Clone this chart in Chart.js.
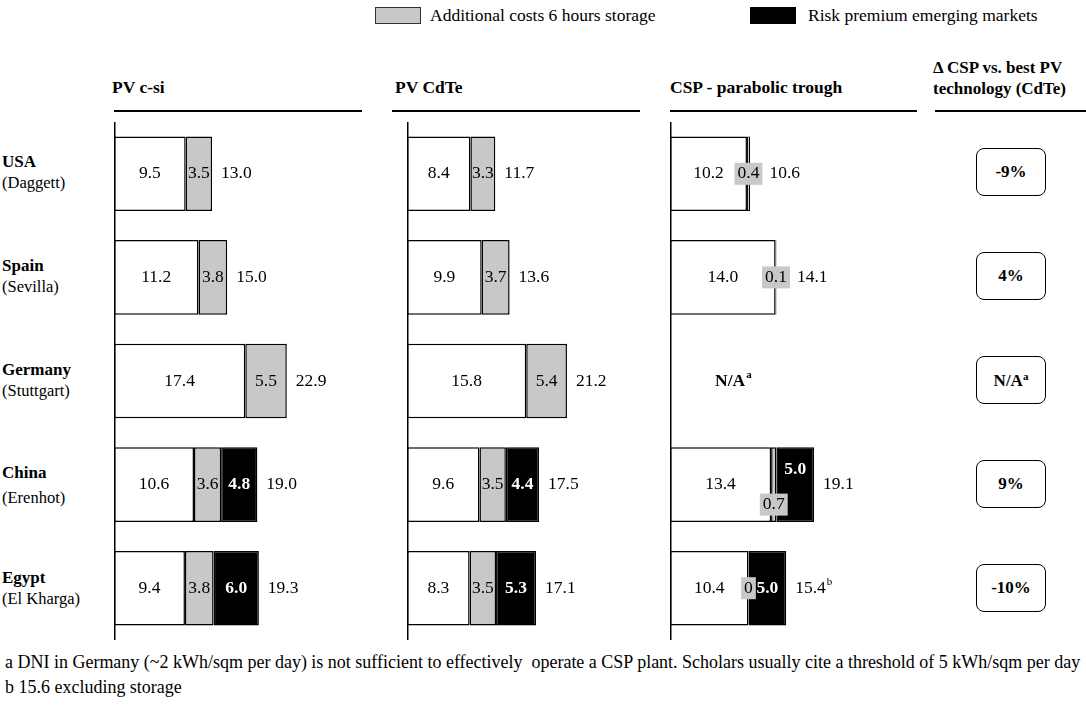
<!DOCTYPE html>
<html lang="en">
<head>
<meta charset="UTF-8">
<title>LCOE comparison</title>
<script src="https://cdn.jsdelivr.net/npm/chart.js"></script>
<style>
  body { margin: 0; background: #fff; font-family: "Liberation Serif", "Times New Roman", serif; color: #000; }
  #page { position: relative; width: 1086px; height: 709px; overflow: hidden; }
  .abs { position: absolute; white-space: nowrap; }
  .hdr { font-weight: bold; font-size: 17.5px; }
  .rule { position: absolute; height: 2px; background: #000; top: 110px; }
  .country { position: absolute; left: 2px; font-size: 16.5px; line-height: 21px; white-space: nowrap; }
  .country b { font-size: 17px; }
  .delta { position: absolute; left: 976px; width: 68px; height: 46px; border: 1.5px solid #000; border-radius: 8px;
           display: flex; align-items: center; justify-content: center; font-weight: bold; font-size: 17px; }
  .panel { position: absolute; top: 122px; width: 249px; height: 518px; }
  .leg-box { position: absolute; top: 7px; width: 44px; height: 15px; border: 1.5px solid #333; }
  .foot { position: absolute; left: 5px; font-size: 18px; white-space: nowrap; transform-origin: 0 50%; }
  .sup { font-size: 11px; vertical-align: 6px; }
</style>
</head>
<body>
<div id="page">
  <div class="leg-box" style="left:375px;background:#c8c8c8"></div>
  <div class="abs" style="left:430px;top:5px;font-size:17.5px">Additional costs 6 hours storage</div>
  <div class="leg-box" style="left:750px;background:#000;border-color:#000"></div>
  <div class="abs" style="left:808px;top:5px;font-size:17.5px">Risk premium emerging markets</div>

  <div class="abs hdr" style="left:112px;top:77px">PV c-si</div>
  <div class="abs hdr" style="left:395px;top:77px">PV CdTe</div>
  <div class="abs hdr" style="left:670px;top:77px">CSP - parabolic trough</div>
  <div class="abs hdr" style="left:933px;top:57px;line-height:21px;font-size:17px">&Delta; CSP vs. best PV<br>technology (CdTe)</div>
  <div class="rule" style="left:114px;width:248px"></div>
  <div class="rule" style="left:392px;width:248px"></div>
  <div class="rule" style="left:670px;width:247px"></div>
  <div class="rule" style="left:935px;width:151px"></div>

  <div id="countries"></div>
  <div id="deltas"></div>

  <canvas id="c1" class="panel" width="249" height="518" style="left:114px"></canvas>
  <canvas id="c2" class="panel" width="249" height="518" style="left:407px"></canvas>
  <canvas id="c3" class="panel" width="249" height="518" style="left:670px"></canvas>

  <div class="foot" id="fa" style="top:652px">a DNI in Germany (~2 kWh/sqm per day) is not sufficient to effectively&nbsp; operate a CSP plant. Scholars usually cite a threshold of 5 kWh/sqm per day</div>
  <div class="foot" style="top:677px">b 15.6 excluding storage</div>
</div>

<script>
// data
const countries = ['USA', 'Spain', 'Germany', 'China', 'Egypt'];
const cities = ['(Daggett)', '(Sevilla)', '(Stuttgart)', '(Erenhot)', '(El Kharga)'];

const csiBase = [9.5, 11.2, 17.4, 10.6, 9.4];
const csiStorage = [3.5, 3.8, 5.5, 3.6, 3.8];
const csiRisk = [0, 0, 0, 4.8, 6.0];
const csiTotal = [13.0, 15.0, 22.9, 19.0, 19.3];

const cdteBase = [8.4, 9.9, 15.8, 9.6, 8.3];
const cdteStorage = [3.3, 3.7, 5.4, 3.5, 3.5];
const cdteRisk = [0, 0, 0, 4.4, 5.3];
const cdteTotal = [11.7, 13.6, 21.2, 17.5, 17.1];

const cspBase = [10.2, 14.0, null, 13.4, 10.4];
const cspStorage = [0.4, 0.1, null, 0.7, 0];
const cspRisk = [0, 0, null, 5.0, 5.0];
const cspTotal = [10.6, 14.1, null, 19.1, 15.4];
const cspNotes = ['', '', 'a', '', 'b'];

const deltaCsp = ['-9%', '4%', 'N/A', '9%', '-10%'];
const deltaNotes = ['', '', 'a', '', ''];

const xMax = 33;
const rowCenters = [173, 277, 381, 485, 589];

// country labels + delta boxes
const cDiv = document.getElementById('countries');
const dDiv = document.getElementById('deltas');
countries.forEach((c, i) => {
  const el = document.createElement('div');
  el.className = 'country';
  el.style.top = (rowCenters[i] - 22 + (i === 3 ? -1 : 0)) + 'px';
  el.innerHTML = '<b>' + c + '</b><br>' + (i === 3 ? '<span style="display:inline-block;margin-top:4px">' + cities[i] + '</span>' : cities[i]);
  cDiv.appendChild(el);
  const d = document.createElement('div');
  d.className = 'delta';
  d.style.top = (rowCenters[i] - 25) + 'px';
  d.innerHTML = '<span>' + deltaCsp[i] + (deltaNotes[i] ? '<span class="sup">' + deltaNotes[i] + '</span>' : '') + '</span>';
  dDiv.appendChild(d);
});

const FONT = '"Liberation Serif", "Times New Roman", serif';
const FS = '17.5px ';

function fmt(v) { return v === 0 ? '0' : v.toFixed(1); }

const labelPlugin = {
  id: 'labels',
  afterDatasetsDraw(chart) {
    const ctx = chart.ctx;
    const area = chart.chartArea;
    const totals = chart.options.plugins.labels.totals;
    const notes = chart.options.plugins.labels.notes || [];
    ctx.save();
    // vertical axis line
    ctx.strokeStyle = '#000';
    ctx.lineWidth = 1.5;
    ctx.beginPath();
    ctx.moveTo(area.left + 0.75, area.top);
    ctx.lineTo(area.left + 0.75, area.bottom);
    ctx.stroke();

    ctx.textBaseline = 'middle';
    const m0 = chart.getDatasetMeta(0), m1 = chart.getDatasetMeta(1), m2 = chart.getDatasetMeta(2);
    for (let i = 0; i < totals.length; i++) {
      const b = m0.data[i], s = m1.data[i], r = m2.data[i];
      const y = b.y;
      if (totals[i] === null) {
        ctx.font = 'bold ' + FS + FONT;
        ctx.fillStyle = '#000';
        ctx.textAlign = 'left';
        ctx.fillText('N/A', area.left + 45, y);
        const w = ctx.measureText('N/A').width;
        ctx.font = 'bold 11px ' + FONT;
        ctx.fillText(notes[i], area.left + 46 + w, y - 6);
        continue;
      }
      const vb = chart.data.datasets[0].data[i];
      const vs = chart.data.datasets[1].data[i];
      const vr = chart.data.datasets[2].data[i];
      // base label
      ctx.font = FS + FONT;
      ctx.fillStyle = '#000';
      ctx.textAlign = 'center';
      ctx.fillText(fmt(vb), (b.base + b.x) / 2, y);

      // storage label
      const sTxt = fmt(vs);
      const sw = ctx.measureText(sTxt).width;
      const segW = s.x - s.base;
      const sCx = (s.base + s.x) / 2;
      let sBoxRight = s.x;
      let sy = y, ry = y;
      ctx.font = 'bold ' + FS + FONT;
      const rw = vr > 0 ? ctx.measureText(fmt(vr)).width : 0;
      const rCx = (r.base + r.x) / 2;
      const fits = segW >= sw + 2;
      if (!fits && vr > 0 && sCx + sw / 2 + 2 > rCx - rw / 2 + 1) { sy = y + 20; ry = y - 15; }
      ctx.font = FS + FONT;
      if (!fits) {
        ctx.fillStyle = '#c8c8c8';
        ctx.fillRect(sCx - sw / 2 - 3, sy - 11, sw + 6, 22);
        if (sy === y) sBoxRight = sCx + sw / 2 + 3;
      }
      ctx.fillStyle = '#000';
      ctx.fillText(sTxt, sCx, sy);

      // risk label
      if (vr > 0) {
        ctx.font = 'bold ' + FS + FONT;
        ctx.fillStyle = '#fff';
        ctx.fillText(fmt(vr), rCx, ry);
      }

      // total label
      const end = vr > 0 ? r.x : s.x;
      const tx = Math.max(end + 9, sBoxRight + 7);
      ctx.font = FS + FONT;
      ctx.fillStyle = '#000';
      ctx.textAlign = 'left';
      ctx.fillText(totals[i].toFixed(1), tx, y);
      if (notes[i]) {
        const tw = ctx.measureText(totals[i].toFixed(1)).width;
        ctx.font = '11px ' + FONT;
        ctx.fillText(notes[i], tx + tw + 1, y - 6);
      }
    }
    ctx.restore();
  }
};

function makePanel(id, base, storage, risk, totals, notes) {
  const seg = (data, color) => ({
    data, backgroundColor: color, borderColor: '#000', borderSkipped: false,
    // thin segments get a thinner outline so the fill still shows
    borderWidth: c => (c.raw !== null && c.raw < 0.5 ? 1 : 1.5),
    categoryPercentage: 1, barPercentage: 0.72
  });
  new Chart(document.getElementById(id), {
    type: 'bar',
    data: {
      labels: countries,
      datasets: [seg(base, '#ffffff'), seg(storage, '#c8c8c8'), seg(risk, '#000000')]
    },
    options: {
      indexAxis: 'y',
      responsive: false,
      animation: false,
      devicePixelRatio: 1,
      layout: { padding: 0 },
      scales: {
        x: { display: false, stacked: true, min: 0, max: xMax },
        y: { display: false, stacked: true }
      },
      plugins: {
        legend: { display: false },
        tooltip: { enabled: false },
        labels: { totals, notes }
      }
    },
    plugins: [labelPlugin]
  });
}

makePanel('c1', csiBase, csiStorage, csiRisk, csiTotal);
makePanel('c2', cdteBase, cdteStorage, cdteRisk, cdteTotal);
makePanel('c3', cspBase, cspStorage, cspRisk, cspTotal, cspNotes);

// squeeze footnote to the same width as the original
const fa = document.getElementById('fa');
const sc = 1075 / fa.scrollWidth;
document.querySelectorAll('.foot').forEach(f => { f.style.transform = 'scaleX(' + sc + ')'; });
</script>
</body>
</html>
